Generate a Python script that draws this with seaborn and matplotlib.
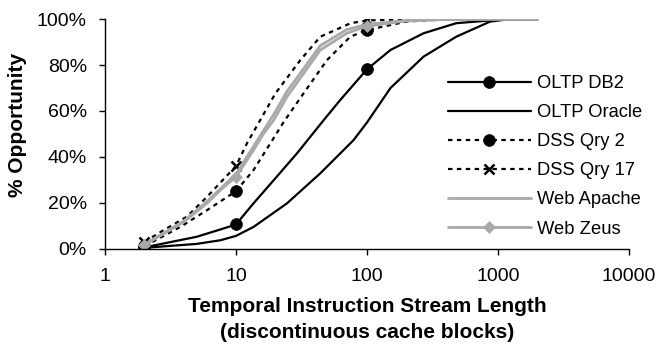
import matplotlib
matplotlib.use("Agg")
import matplotlib.pyplot as plt
import seaborn as sns
from matplotlib.ticker import FixedLocator, NullLocator

# ---- data ----
x_qry17 = [2, 2.8, 4.2, 6, 10, 12.1, 15.3, 20, 31, 44, 75, 100, 200, 2000]
y_qry17 = [2.9, 8, 13.8, 22.5, 36, 45.8, 56, 67.7, 82.2, 92.4, 98.3, 99.5, 100, 100]

x_zeus = [2, 4, 6, 7.6, 10, 13.6, 16.3, 19.4, 24.5, 44, 70, 100, 200, 400, 2000]
y_zeus = [1.5, 11.6, 19.7, 25.5, 31.3, 42.9, 50.3, 56, 66.2, 86.6, 93.9, 97, 99.3, 100, 100]

x_apache = [2, 4, 6, 10, 13.6, 19.4, 24.5, 44, 70, 100, 200, 500, 2000]
y_apache = [1.8, 12, 20.5, 32.5, 44.5, 58.5, 68.5, 88.5, 95.5, 97.8, 99.5, 100, 100]

x_qry2 = [2, 3.76, 6, 10, 13.6, 18.3, 23, 32.8, 49.5, 74.5, 100, 200, 400, 2000]
y_qry2 = [1, 9.4, 16.7, 25, 34.2, 45.9, 55, 67.7, 82.2, 92.4, 95.3, 99, 100, 100]

x_db2 = [2, 5, 8, 10, 13.6, 19.4, 29.2, 46.7, 62.5, 100, 151, 270, 480, 870, 1000, 2000]
y_db2 = [0.5, 5.1, 8.7, 10.5, 19.7, 29.8, 41.5, 56, 64.8, 78.2, 86.6, 93.9, 98.3, 99.5, 100, 100]

x_oracle = [2, 5, 7.6, 10, 13.6, 24.5, 44, 79, 100, 151, 270, 480, 870, 1200, 2000]
y_oracle = [0.3, 2, 3.6, 5.5, 9.4, 19.7, 32.8, 47.3, 55, 70, 83.7, 92.4, 99, 100, 100]

marker_x = [2, 10, 100]
x_ticks = [1, 10, 100, 1000, 10000]
x_tick_labels = ["1", "10", "100", "1000", "10000"]
y_ticks = [0, 20, 40, 60, 80, 100]
y_tick_labels = ["0%", "20%", "40%", "60%", "80%", "100%"]

# ---- style ----
sns.set_style("white")
plt.rcParams["font.family"] = ["Liberation Sans", "DejaVu Sans"]
plt.rcParams["font.size"] = 14
for k in ["text.color", "axes.labelcolor", "xtick.color", "ytick.color"]:
    plt.rcParams[k] = "black"

fig = plt.figure(figsize=(6.58, 3.51), dpi=100)
ax = fig.add_axes([105 / 658, 1 - 248.5 / 351, (629 - 105) / 658, (248.5 - 19.3) / 351])

GRAY = "#a9a9a9"
DOT = (0, (2, 2))

def mk(xs):
    return [xs.index(v) for v in marker_x]

series = [
    ("OLTP DB2", x_db2, y_db2, dict(color="black", lw=1.6, marker="o", ms=8.5, mec="black", mfc="black", mew=0.5, markevery=mk(x_db2))),
    ("OLTP Oracle", x_oracle, y_oracle, dict(color="black", lw=1.6)),
    ("DSS Qry 2", x_qry2, y_qry2, dict(color="black", lw=1.6, ls=DOT, marker="o", ms=8.5, mec="black", mfc="black", mew=0.5, markevery=mk(x_qry2))),
    ("DSS Qry 17", x_qry17, y_qry17, dict(color="black", lw=1.6, ls=DOT, marker="x", ms=7.5, mec="black", mew=1.8, markevery=mk(x_qry17))),
    ("Web Apache", x_apache, y_apache, dict(color=GRAY, lw=2.0)),
    ("Web Zeus", x_zeus, y_zeus, dict(color=GRAY, lw=2.0, marker="D", ms=6, mec=GRAY, mfc=GRAY, mew=0.5, markevery=mk(x_zeus))),
]

for name, xs, ys, kw in series:
    sns.lineplot(x=xs, y=ys, ax=ax, label=name, sort=False, estimator=None, **kw)

ax.set_xscale("log")
ax.set_xlim(1, 10000)
ax.set_ylim(0, 100)
ax.xaxis.set_major_locator(FixedLocator(x_ticks))
ax.xaxis.set_minor_locator(NullLocator())
ax.set_xticklabels(x_tick_labels)
ax.set_yticks(y_ticks)
ax.set_yticklabels(y_tick_labels)

for s in ["top", "right"]:
    ax.spines[s].set_visible(False)
for s in ["left", "bottom"]:
    ax.spines[s].set_color("black")
    ax.spines[s].set_linewidth(1.0)

ax.tick_params(axis="x", direction="out", length=4.5, width=1, color="black", labelsize=14, pad=9.5, bottom=True)
ax.tick_params(axis="y", direction="out", length=4, width=1, color="black", labelsize=14, pad=9, left=True)
ax.grid(False)

ax.set_xlabel("Temporal Instruction Stream Length\n(discontinuous cache blocks)",
              fontsize=15, fontweight="bold", labelpad=8.5, linespacing=1.46)
ax.set_ylabel("% Opportunity", fontsize=15, fontweight="bold")
ax.yaxis.set_label_coords(-0.149, 0.541)

leg = ax.legend(loc="center left", bbox_to_anchor=(448 / 658, 1 - 156.3 / 351),
                bbox_transform=fig.transFigure, frameon=False, fontsize=13.2,
                handlelength=4.5, handletextpad=0.33, labelspacing=0.66,
                borderpad=0, borderaxespad=0)

fig.savefig("out.png", dpi=100)
